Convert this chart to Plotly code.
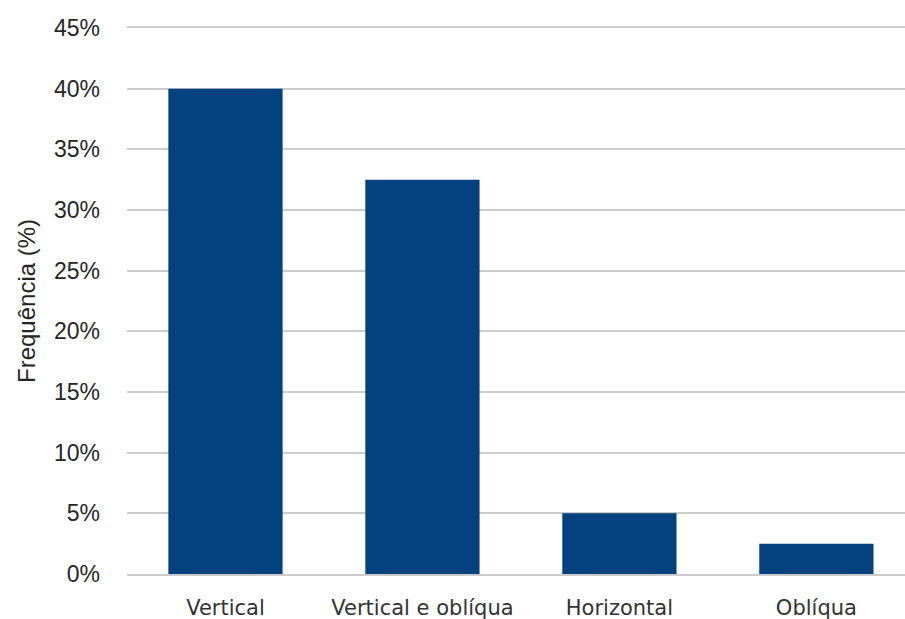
import plotly.graph_objects as go

categories = ["Vertical", "Vertical e oblíqua", "Horizontal", "Oblíqua"]
values = [40.0, 32.5, 5.0, 2.5]
y_ticks = [0, 5, 10, 15, 20, 25, 30, 35, 40, 45]
y_tick_labels = [f"{v}%" for v in y_ticks]

fig = go.Figure(
    go.Bar(
        x=categories,
        y=values,
        width=0.58,
        marker=dict(color="#03427f", line=dict(width=0)),
    )
)

fig.update_layout(
    width=905,
    height=619,
    margin=dict(l=127, r=0, t=28, b=45, autoexpand=False),
    paper_bgcolor="white",
    plot_bgcolor="white",
    showlegend=False,
    bargap=0.42,
)

fig.update_xaxes(
    range=[-0.5, 3.45],
    automargin=False,
    showgrid=False,
    zeroline=False,
    showline=True,
    mirror=True,
    linecolor="#cccccc",
    linewidth=2,
    ticks="",
    ticklabelstandoff=14,
    tickfont=dict(family="DejaVu Sans", size=21, color="#333333"),
)

fig.update_yaxes(
    range=[y_ticks[0], y_ticks[-1]],
    automargin=False,
    tickvals=y_ticks,
    ticktext=y_tick_labels,
    showgrid=True,
    gridcolor="#cccccc",
    gridwidth=2,
    zeroline=False,
    showline=False,
    ticks="",
    ticklabelstandoff=26,
    tickfont=dict(family="Liberation Sans", size=23, color="#262626"),
)

fig.add_annotation(
    text="Frequência (%)",
    xref="paper",
    yref="paper",
    x=0,
    y=0.5,
    xanchor="center",
    yanchor="middle",
    xshift=-101,
    textangle=-90,
    showarrow=False,
    font=dict(family="Liberation Sans", size=24, color="#262626"),
)

fig.write_html("out.html")
